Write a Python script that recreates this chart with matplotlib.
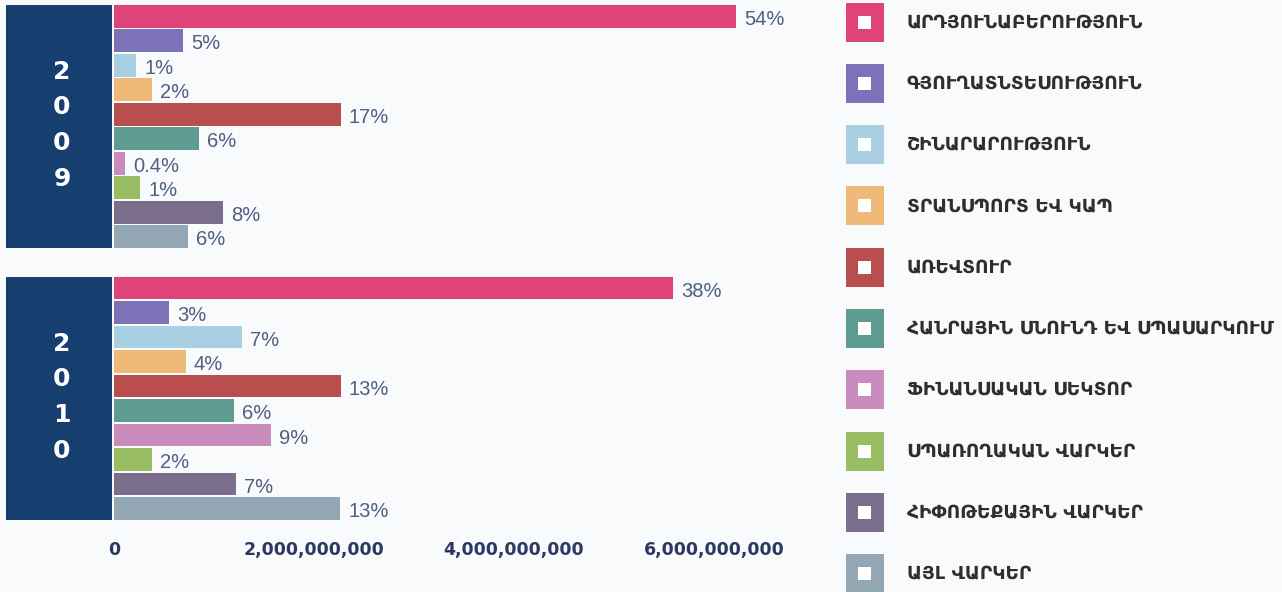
import numpy as np
import matplotlib.pyplot as plt
from matplotlib.patches import Rectangle
from matplotlib.transforms import blended_transform_factory

sectors = ['ԱՐԴՅՈՒՆԱԲԵՐՈՒԹՅՈՒՆ', 'ԳՅՈՒՂԱՏՆՏԵՍՈՒԹՅՈՒՆ', 'ՇԻՆԱՐԱՐՈՒԹՅՈՒՆ',
           'ՏՐԱՆՍՊՈՐՏ ԵՎ ԿԱՊ', 'ԱՌԵՎՏՈՒՐ', 'ՀԱՆՐԱՅԻՆ ՍՆՈՒՆԴ ԵՎ ՍՊԱՍԱՐԿՈՒՄ',
           'ՖԻՆԱՆՍԱԿԱՆ ՍԵԿՏՈՐ', 'ՍՊԱՌՈՂԱԿԱՆ ՎԱՐԿԵՐ', 'ՀԻՓՈԹԵՔԱՅԻՆ ՎԱՐԿԵՐ', 'ԱՅԼ ՎԱՐԿԵՐ']
colors = ['#e0427a', '#7b72b8', '#a9cfe3', '#efb97a', '#b94e4f',
          '#5e9b90', '#c98cbd', '#98bd63', '#7b6e8d', '#93a8b4']

years = ['2009', '2010']
amount_2009 = [6.22e9, 0.69e9, 0.22e9, 0.38e9, 2.27e9, 0.85e9, 0.11e9, 0.26e9, 1.09e9, 0.74e9]
amount_2010 = [5.59e9, 0.55e9, 1.28e9, 0.72e9, 2.27e9, 1.20e9, 1.57e9, 0.38e9, 1.22e9, 2.26e9]
share_2009 = ['54%', '5%', '1%', '2%', '17%', '6%', '0.4%', '1%', '8%', '6%']
share_2010 = ['38%', '3%', '7%', '4%', '13%', '6%', '9%', '2%', '7%', '13%']

x_ticks = [0, 2e9, 4e9, 6e9]
x_tick_labels = ['0', '2,000,000,000', '4,000,000,000', '6,000,000,000']

bg = '#f9fafb'
navy = '#163f70'
W, H = 1282, 592

fig = plt.figure(figsize=(W / 100, H / 100), dpi=100)
fig.patch.set_facecolor(bg)

ax = fig.add_axes([114 / W, 62 / H, 700 / W, 530 / H])
ax.set_facecolor(bg)
trans = blended_transform_factory(fig.transFigure, ax.transData)

offsets = [0, 11.1]
for year, amounts, shares, off in zip(years, [amount_2009, amount_2010],
                                      [share_2009, share_2010], offsets):
    y = np.arange(len(sectors)) + off
    ax.barh(y, amounts, height=0.92, color=colors)
    for yi, a, s in zip(y, amounts, shares):
        ax.text(a + 0.08e9, yi + 0.12, s, va='center', ha='left',
                fontsize=14.5, color='#4f5f82', family='Liberation Sans')
    # year box on the left
    ax.add_patch(Rectangle((6 / W, off - 0.46), 106 / W, 9.92, transform=trans,
                           color=navy, clip_on=False, lw=0))
    ax.text(62 / W, off + 4.45, '\n'.join(year), transform=trans,
            ha='center', va='center', color='white', fontsize=18,
            fontweight='bold', linespacing=1.62)

ax.set_xlim(0, 7e9)
ax.set_ylim(20.97, -0.664)
ax.set_xticks(x_ticks, x_tick_labels)
ax.set_yticks([])
ax.tick_params(axis='x', length=0, pad=8, labelsize=12.5, labelcolor='#2b3862')
for lbl in ax.get_xticklabels():
    lbl.set_fontweight('bold')
for sp in ax.spines.values():
    sp.set_visible(False)

# legend
leg = fig.add_axes([830 / W, 0, 452 / W, 1])
leg.set_xlim(830, 1282)
leg.set_ylim(592, 0)
leg.axis('off')
for i, (name, c) in enumerate(zip(sectors, colors)):
    cy = 22 + 61.3 * i
    leg.add_patch(Rectangle((846, cy - 19.5), 38, 39, color=c, lw=0))
    leg.add_patch(Rectangle((858.5, cy - 6.5), 13, 13, color='white', lw=0))
    leg.text(907, cy + 1, name, va='center', ha='left', fontsize=13.3,
             fontweight='bold', color='#2e2e2e', family='DejaVu Sans')

fig.savefig('out.png', dpi=100, facecolor=bg)
